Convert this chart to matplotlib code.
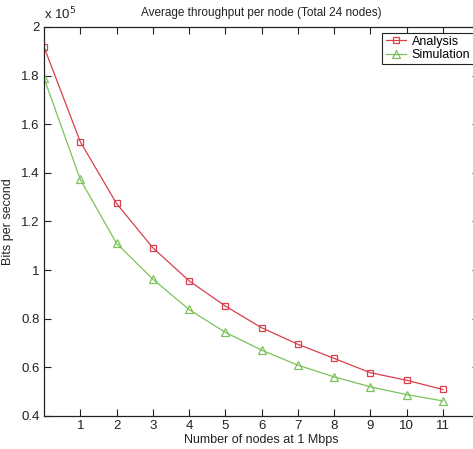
import matplotlib.pyplot as plt
from matplotlib.ticker import FuncFormatter

plt.rcParams['font.family'] = ['Liberation Sans', 'DejaVu Sans']

nodes = [0, 1, 2, 3, 4, 5, 6, 7, 8, 9, 10, 11]
analysis = [1.918, 1.528, 1.274, 1.092, 0.956, 0.852, 0.763, 0.695, 0.637, 0.578, 0.547, 0.509]
simulation = [1.790, 1.373, 1.110, 0.963, 0.838, 0.744, 0.671, 0.609, 0.561, 0.520, 0.488, 0.462]
analysis = [v * 1e5 for v in analysis]
simulation = [v * 1e5 for v in simulation]

red = '#d8404c'
green = '#7cc25a'

fig = plt.figure(figsize=(4.73, 4.49), dpi=100)
ax = fig.add_axes([0.093, 0.0735, 0.92, 0.8665])

ax.plot(nodes, analysis, color=red, lw=0.9, marker='s', ms=5,
        mfc='none', mec=red, mew=0.9, label='Analysis')
ax.plot(nodes, simulation, color=green, lw=0.9, marker='^', ms=6,
        mfc='none', mec=green, mew=0.9, label='Simulation')

ax.set_xlim(0, 12)
ax.set_ylim(0.4e5, 2e5)
ax.set_xticks(range(1, 12))
ax.set_yticks([0.4e5, 0.6e5, 0.8e5, 1e5, 1.2e5, 1.4e5, 1.6e5, 1.8e5, 2e5])
ax.yaxis.set_major_formatter(FuncFormatter(lambda v, p: '%g' % round(v / 1e5, 2)))
ax.tick_params(direction='in', top=True, right=True, length=5, width=0.8,
               labelsize=9.5, colors='#222222', pad=3)
for s in ax.spines.values():
    s.set_linewidth(0.9)
    s.set_color('#222222')

ax.text(0.0, 1.012, 'x 10$^5$', transform=ax.transAxes, fontsize=9.5,
        color='#222222', ha='left', va='bottom')
ax.set_title('Average throughput per node (Total 24 nodes)', fontsize=8.5,
             color='#222222', x=0.5, pad=8)
ax.set_xlabel('Number of nodes at 1 Mbps', fontsize=9, color='#222222', labelpad=1)
ax.set_ylabel('Bits per second', fontsize=9, color='#222222')
ax.yaxis.set_label_coords(-0.07, 0.5)

leg = ax.legend(loc='upper right', fontsize=9, fancybox=False, framealpha=1,
                edgecolor='#222222', borderaxespad=0.45, handlelength=1.6,
                borderpad=0.25, labelspacing=0.1, handletextpad=0.5)
leg.get_frame().set_linewidth(0.8)

fig.savefig('out.png', dpi=100)
